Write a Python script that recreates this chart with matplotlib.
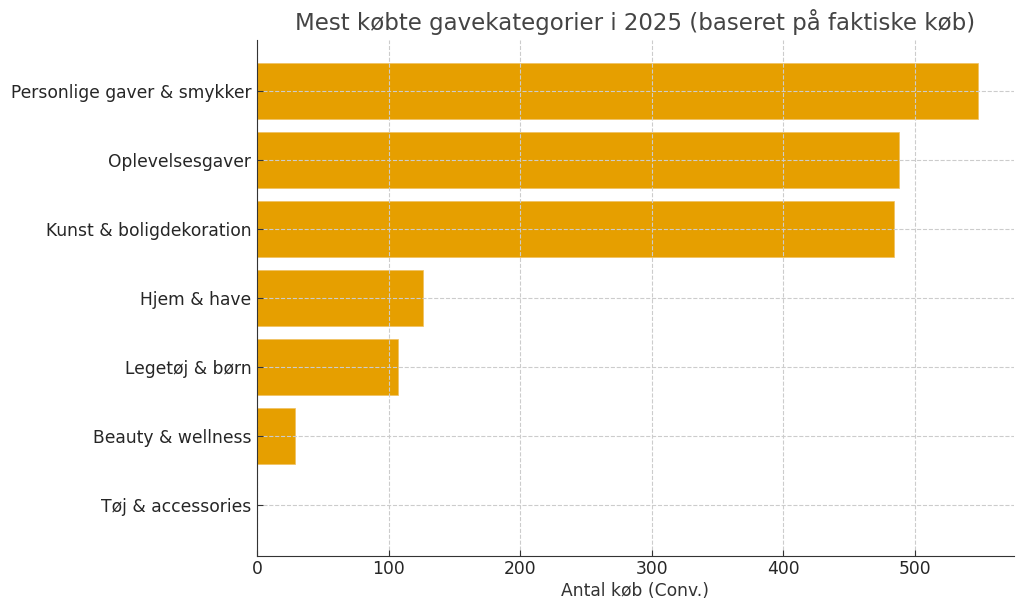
import matplotlib
matplotlib.use("Agg")
import matplotlib.pyplot as plt

categories = ["Personlige gaver & smykker", "Oplevelsesgaver", "Kunst & boligdekoration",
              "Hjem & have", "Legetøj & børn", "Beauty & wellness", "Tøj & accessories"]
values = [548, 488, 484, 126, 107, 29, 0]
title = "Mest købte gavekategorier i 2025 (baseret på faktiske køb)"
xlabel = "Antal køb (Conv.)"

plt.rcParams['font.family'] = ['DejaVu Sans']
fig = plt.figure(figsize=(10.24, 6.11), dpi=100)
ax = fig.add_axes([0.251, 0.090, 0.739, 0.8445])
ax.barh(categories, values, height=0.8, color="#E69F00", edgecolor="#F0C060", linewidth=0.5, zorder=1)
ax.invert_yaxis()
ax.set_axisbelow(False)
ax.grid(True, linestyle="--", color="#cccccc", linewidth=0.8, zorder=2)
for s in ["top", "right"]:
    ax.spines[s].set_visible(False)
for s in ["left", "bottom"]:
    ax.spines[s].set_color("#333333")
    ax.spines[s].set_zorder(3)
ax.tick_params(labelsize=12.3, colors="#333333", labelcolor="#262626", direction="in", length=4, pad=4)
ax.tick_params(axis="x", pad=3)
ax.set_xlabel(xlabel, fontsize=12.3, color="#333333", labelpad=3)
ax.set_title(title, fontsize=16.5, color="#444444", pad=7)
fig.savefig("out.png", dpi=100)
